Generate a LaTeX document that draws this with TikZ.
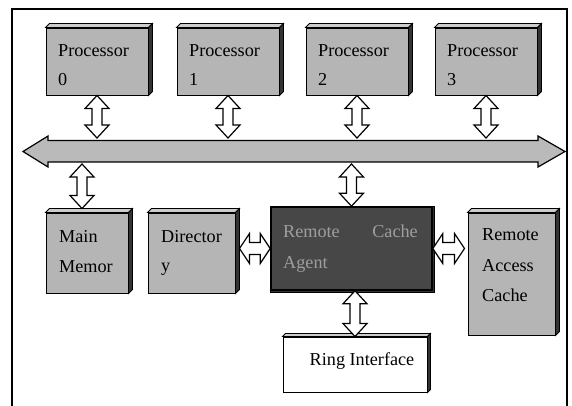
\documentclass[tikz,border=0pt]{standalone}
\usepackage{fontspec}
\setmainfont{Liberation Serif}
\usetikzlibrary{calc}
\newcommand{\bevel}[2]{%
  \path[topface] (#1.north west) -- ++(#2,-#2) -- ($(#1.north east)+(#2,-#2)$) -- (#1.north east) -- cycle;
  \path[sideface] (#1.north east) -- ++(#2,-#2) -- ($(#1.south east)+(#2,-#2)$) -- (#1.south east) -- cycle;}
\newcommand{\vdarr}[2]{%
  \path[blockarr] let \p1=(#1), \p2=(#2) in
    (\x1,\y1) -- (\x1+12pt,\y1-13pt) -- (\x1+5pt,\y1-13pt) -- (\x1+5pt,\y2+13pt) -- (\x1+12pt,\y2+13pt)
    -- (\x1,\y2) -- (\x1-12pt,\y2+13pt) -- (\x1-5pt,\y2+13pt) -- (\x1-5pt,\y1-13pt) -- (\x1-12pt,\y1-13pt) -- cycle;}
\newcommand{\hdarr}[2]{%
  \path[blockarr] let \p1=(#1), \p2=(#2) in
    (\x1,\y1) -- (\x1+10pt,\y1+15pt) -- (\x1+10pt,\y1+6pt) -- (\x2-10pt,\y1+6pt) -- (\x2-10pt,\y1+15pt)
    -- (\x2,\y1) -- (\x2-10pt,\y1-15pt) -- (\x2-10pt,\y1-6pt) -- (\x1+10pt,\y1-6pt) -- (\x1+10pt,\y1-15pt) -- cycle;}
\begin{document}
\begin{tikzpicture}[x=1pt,y=-1pt,
  box/.style={draw=black, line width=1pt, fill=black!29, inner sep=0pt},
  darkbox/.style={draw=black, line width=1.6pt, fill=black!72, inner sep=0pt},
  whitebox/.style={draw=black, line width=1pt, fill=white, inner sep=0pt},
  sideface/.style={draw=black, line width=0.8pt, fill=black!80},
  topface/.style={draw=black, line width=0.8pt, fill=black!20},
  lbl/.style={anchor=base west, inner sep=0pt, font=\fontsize{18.2}{20}\selectfont},
  darklbl/.style={lbl, text=black!38},
  blockarr/.style={draw=black, line width=1.2pt, fill=white, line join=miter},
  busarr/.style={draw=black, line width=1.2pt, fill=black!27, line join=miter},
  frame/.style={draw=black, line width=1.8pt}]
\useasboundingbox (0,0) rectangle (572,405);
% outer frame
\draw[frame] (12,406) -- (12,9) -- (567,9) -- (567,406);
% processors
\node[box, minimum width=102, minimum height=67] (p0) at (97,61.5) {};
\node[box, minimum width=102, minimum height=67] (p1) at (228,61.5) {};
\node[box, minimum width=102, minimum height=67] (p2) at (357,61.5) {};
\node[box, minimum width=102, minimum height=67] (p3) at (486,61.5) {};
\bevel{p0}{4}\bevel{p1}{4}\bevel{p2}{4}\bevel{p3}{4}
\node[lbl] (t0a) at (58,56) {Processor};
\node[lbl] (t0b) at (58,85) {0};
\node[lbl] (t1a) at (189,56) {Processor};
\node[lbl] (t1b) at (189,85) {1};
\node[lbl] (t2a) at (318,56) {Processor};
\node[lbl] (t2b) at (318,85) {2};
\node[lbl] (t3a) at (447,56) {Processor};
\node[lbl] (t3b) at (447,85) {3};
% bus
\path[busarr] (23,151.5) -- (48,136) -- (48,140.5) -- (538,140.5) -- (538,136) -- (565,151.5)
  -- (538,167) -- (538,162) -- (48,162) -- (48,167) -- cycle;
\coordinate (bustop) at (0,138);
\coordinate (busbot) at (0,164);
% lower boxes
\node[box, minimum width=82, minimum height=80] (mm) at (87,253) {};
\node[box, minimum width=87, minimum height=80] (dir) at (191.5,253) {};
\node[darkbox, minimum width=161, minimum height=83] (rca) at (351.5,248.5) {};
\node[box, minimum width=87, minimum height=122] (rac) at (511.5,274) {};
\node[whitebox, minimum width=144, minimum height=55] (ring) at (355,364.5) {};
\bevel{mm}{4}\bevel{dir}{4}\bevel{rac}{4}\bevel{ring}{3}
\path[sideface] (rca.north east) -- ++(2,0) -- ($(rca.south east)+(2,2)$) -- ($(rca.south west)+(0,2)$) -- (rca.south west) -- (rca.south east) -- cycle;
\node[lbl] (mma) at (59,242) {Main};
\node[lbl] (mmb) at (59,272) {Memor};
\node[lbl] (dira) at (161,242) {Director};
\node[lbl] (dirb) at (161,271) {y};
\node[darklbl] (rcaa) at (283,237) {Remote};
\node[darklbl, anchor=base east] (rcab) at (418,237) {Cache};
\node[darklbl] (rcac) at (283,268) {Agent};
\node[lbl] (raca) at (482,240) {Remote};
\node[lbl] (racb) at (482,271) {Access};
\node[lbl] (racc) at (482,301) {Cache};
\node[lbl, anchor=base] (ringt) at (362,365) {Ring Interface};
% arrows
\vdarr{p0.south}{p0.south |- bustop}
\vdarr{p1.south}{p1.south |- bustop}
\vdarr{p2.south}{p2.south |- bustop}
\vdarr{p3.south}{p3.south |- bustop}
\vdarr{$(mm.north |- busbot)+(-5,0)$}{$(mm.north)+(0,-4)$}
\vdarr{rca.north |- busbot}{rca.north}
\vdarr{ring.north |- rca.south}{ring.north}
\hdarr{$(dir.east |- rca.west)+(4,0)$}{rca.west}
\hdarr{rca.east}{$(rac.west |- rca.east)+(-3,0)$}
\end{tikzpicture}
\end{document}
